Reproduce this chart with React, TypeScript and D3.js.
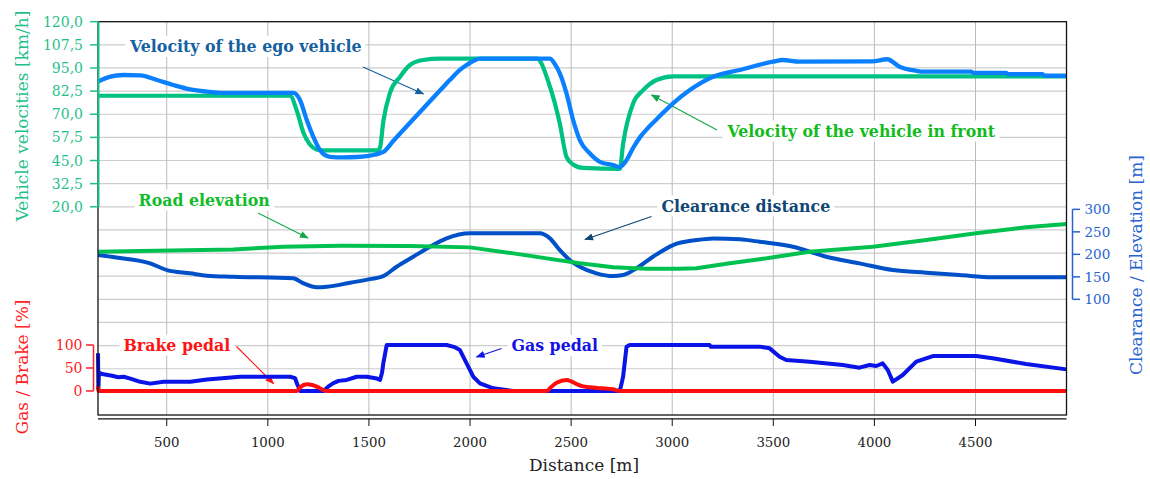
import React, { useEffect, useRef } from "react";
import * as d3 from "d3";

// ---------------- DATA ----------------
// distance [m], velocity [km/h]
const frontVelocity: [number, number][] = [
  [160, 80], [1110, 80], [1143, 72], [1176, 60], [1209, 53.5], [1240, 51], [1273, 50.5],
  [1545, 50.5], [1555, 52], [1571, 66], [1604, 81.5], [1654, 90.3], [1703, 96.6], [1768, 99.3],
  [1851, 100], [2330, 100], [2395, 85], [2444, 65], [2477, 47], [2508, 43], [2558, 41],
  [2741, 40.5], [2757, 54], [2807, 76], [2856, 83], [2922, 88.5], [3004, 90.5], [4950, 90.5],
];
const egoVelocity: [number, number][] = [
  [160, 87.6], [221, 90.3], [285, 91.2], [369, 91], [452, 88.5], [532, 85.8], [616, 83.4],
  [699, 82.2], [779, 81.5], [1126, 81.5], [1159, 77.7], [1192, 67], [1225, 57.8], [1258, 50.6],
  [1307, 47], [1373, 46.7], [1440, 46.9], [1489, 47.4], [1571, 49.7], [1620, 55.5], [1687, 63.5],
  [1851, 82.8], [1900, 88.5], [1950, 94], [1983, 96.6], [2020, 99], [2049, 100], [2395, 100],
  [2420, 97], [2444, 92.1], [2477, 81.3], [2510, 66.9], [2543, 56], [2592, 48.9], [2642, 44.3],
  [2708, 42.5], [2741, 41.5], [2774, 45.2], [2805, 51.5], [2840, 57.5], [2880, 62.6], [2922, 67.2],
  [3004, 75.9], [3087, 83.1], [3202, 90.3], [3334, 93.9], [3498, 98.4], [3547, 99.3], [3629, 98.4],
  [3989, 98.6], [4063, 99.7], [4124, 95.7], [4206, 93.5], [4239, 93], [4478, 93], [4490, 92.4],
  [4651, 92.4], [4660, 91.7], [4832, 91.7], [4840, 90.8], [4950, 90.8],
];
// distance [m], clearance / elevation [m]
const clearance: [number, number][] = [
  [161, 198.4], [250, 193], [418, 180], [501, 165], [616, 157.8], [699, 152.6], [829, 150.2],
  [1125, 146.7], [1176, 135.6], [1242, 126.7], [1292, 128], [1407, 136.9], [1505, 145],
  [1571, 151.7], [1637, 172.4], [1719, 194.7], [1802, 217], [1884, 235.5], [2000, 246.7],
  [2345, 246.7], [2395, 235.5], [2444, 209.6], [2494, 187], [2543, 172.4], [2625, 157.8],
  [2708, 151.7], [2757, 154], [2823, 168.9], [2905, 194.7], [3004, 220.7], [3120, 231.8],
  [3202, 235.5], [3334, 233.3], [3432, 228], [3597, 217], [3762, 194.7], [3926, 180], [4091, 165],
  [4256, 159.1], [4420, 154], [4585, 148.9], [4950, 148.9],
];
const elevation: [number, number][] = [
  [161, 205.8], [369, 207.3], [829, 211], [1077, 216.9], [1357, 219.1], [1700, 218.5],
  [2000, 215.5], [2214, 202.2], [2379, 191.1], [2543, 180], [2708, 171.1], [2873, 168],
  [3037, 168], [3120, 168.9], [3285, 180], [3432, 189], [3679, 205.8], [3992, 217], [4256, 231.8],
  [4503, 246.7], [4750, 260], [4950, 267.3],
];
// distance [m], pedal [%]
const gasPedal: [number, number][] = [
  [160, 82], [162, 5], [165, 40], [180, 37], [230, 33], [260, 30], [287, 31], [320, 27], [369, 20],
  [418, 16], [484, 20], [616, 20], [699, 25], [863, 31], [1110, 31], [1135, 28], [1143, 17],
  [1160, 0], [1275, 0], [1300, 10], [1324, 17], [1350, 22], [1390, 24], [1440, 31], [1489, 31],
  [1540, 27], [1555, 24], [1565, 40], [1571, 60], [1588, 100], [1884, 100], [1920, 96], [1950, 89],
  [1983, 60], [2016, 31], [2049, 16.7], [2115, 5.8], [2214, 0], [2741, 0], [2757, 31], [2774, 96],
  [2790, 100], [3185, 100], [3190, 96.4], [3432, 96.4], [3482, 92.7], [3531, 74.6], [3564, 67.4],
  [3679, 63.8], [3844, 56.5], [3926, 50.7], [3976, 56.5], [4009, 54.3], [4041, 60], [4066, 45.7],
  [4091, 20.3], [4140, 34.8], [4207, 63.8], [4289, 76], [4503, 76], [4585, 71], [4750, 58.7],
  [4950, 47],
];
const brakePedal: [number, number][] = [
  [160, 10], [163, 0], [1143, 0], [1160, 8], [1192, 14.5], [1220, 13], [1242, 9.4], [1270, 3],
  [1292, 0], [2379, 0], [2400, 8], [2428, 18], [2477, 24], [2500, 21], [2527, 15], [2560, 10],
  [2593, 8], [2650, 6], [2708, 3.6], [2741, 0], [4950, 0],
];

const xTicks = [500, 1000, 1500, 2000, 2500, 3000, 3500, 4000, 4500];
const velTicks = [20, 32.5, 45, 57.5, 70, 82.5, 95, 107.5, 120];
const rightTicks = [100, 150, 200, 250, 300];
const pedalTicks = [0, 50, 100];

// ---------------- LAYOUT ----------------
const W = 1150;
const H = 479;
const L = 98;
const R = 1066.5;
const T = 21.7;
const B = 415;

const C = {
  front: "#00c184",
  ego: "#0a80ff",
  elev: "#00c150",
  clear: "#0050c8",
  gas: "#0a14e6",
  brake: "#ff0d0d",
  velAxis: "#1fbf8a",
  rightAxis: "#2563cf",
  pedalAxis: "#ff2020",
};

const SERIF = "'DejaVu Serif', serif";

export default function App() {
  const ref = useRef<SVGSVGElement | null>(null);

  useEffect(() => {
    const svg = d3.select(ref.current!);
    svg.selectAll("*").remove();

    const x = d3.scaleLinear().domain([160, 4950]).range([L, R]);
    const yV = d3.scaleLinear().domain([-92.5, 120]).range([B, T]);
    const yR = d3.scaleLinear().domain([-157, 717]).range([B, T]);
    const yP = d3.scaleLinear().domain([-52.2, 802.8]).range([B, T]);

    const defs = svg.append("defs");
    const mk = (id: string, color: string) =>
      defs
        .append("marker")
        .attr("id", id)
        .attr("viewBox", "0 0 10 10")
        .attr("refX", 9)
        .attr("refY", 5)
        .attr("markerWidth", 9)
        .attr("markerHeight", 9)
        .attr("markerUnits", "userSpaceOnUse")
        .attr("orient", "auto")
        .append("path")
        .attr("d", "M0,1 L10,5 L0,9 Z")
        .attr("fill", color);

    svg.append("rect").attr("width", W).attr("height", H).attr("fill", "#fff");

    // grid
    const g = svg.append("g");
    const hLines = d3.range(-80, 120, 12.5);
    g.selectAll(".hg")
      .data(hLines)
      .enter()
      .append("line")
      .attr("x1", L)
      .attr("x2", R)
      .attr("y1", (d) => yV(d))
      .attr("y2", (d) => yV(d))
      .attr("stroke", "#cdcdcd")
      .attr("stroke-width", 1.2);
    g.selectAll(".vg")
      .data(xTicks)
      .enter()
      .append("line")
      .attr("x1", (d) => x(d))
      .attr("x2", (d) => x(d))
      .attr("y1", T)
      .attr("y2", B)
      .attr("stroke", "#bcbcbc")
      .attr("stroke-width", 1);

    // annotations (text with white boxes)
    const ann = svg.append("g");
    const labels = [
      { t: "Velocity of the ego vehicle", x: 130, y: 52, c: "#15609f" },
      { t: "Velocity of the vehicle in front", x: 727.5, y: 136.5, c: "#12bb1c" },
      { t: "Road elevation", x: 138.5, y: 205.5, c: "#12bb2a" },
      { t: "Clearance distance", x: 661.5, y: 211.5, c: "#0f4673" },
      { t: "Brake pedal", x: 123.5, y: 350.5, c: "#ff1414" },
      { t: "Gas pedal", x: 511.5, y: 351, c: "#1212e6" },
    ];
    labels.forEach((lb) => {
      const gg = ann.append("g");
      const rect = gg.append("rect").attr("fill", "#fff");
      const tx = gg
        .append("text")
        .attr("x", lb.x)
        .attr("y", lb.y)
        .attr("fill", lb.c)
        .attr("font-family", SERIF)
        .attr("font-weight", "bold")
        .attr("font-size", 15.8)
        .text(lb.t);
      const bb = (tx.node() as SVGTextElement).getBBox();
      rect
        .attr("x", bb.x - 4)
        .attr("y", bb.y - 1)
        .attr("width", bb.width + 8)
        .attr("height", bb.height + 2);
    });

    const arrows = [
      { x1: 363, y1: 67, x2: 423.5, y2: 94, c: "#15609f" },
      { x1: 717, y1: 130, x2: 651.5, y2: 95, c: "#12a84a" },
      { x1: 258, y1: 213, x2: 308, y2: 238, c: "#12a84a" },
      { x1: 651.5, y1: 216.5, x2: 585, y2: 239.5, c: "#0f4673" },
      { x1: 236.5, y1: 346.5, x2: 273.5, y2: 383.5, c: "#ff1414" },
      { x1: 501.5, y1: 348.5, x2: 476.5, y2: 357, c: "#1212e6" },
    ];
    arrows.forEach((a, i) => {
      mk("ah" + i, a.c);
      ann
        .append("line")
        .attr("x1", a.x1)
        .attr("y1", a.y1)
        .attr("x2", a.x2)
        .attr("y2", a.y2)
        .attr("stroke", a.c)
        .attr("stroke-width", 1.1)
        .attr("marker-end", `url(#ah${i})`);
    });

    // data lines
    const lineGen = (ys: d3.ScaleLinear<number, number>, curve: d3.CurveFactory) =>
      d3
        .line<[number, number]>()
        .x((d) => x(d[0]))
        .y((d) => ys(d[1]))
        .curve(curve);

    const plot = svg.append("g").attr("fill", "none").attr("stroke-linejoin", "round");
    const draw = (data: [number, number][], ys: any, color: string, w: number, curve: d3.CurveFactory) =>
      plot
        .append("path")
        .datum(data)
        .attr("d", lineGen(ys, curve) as any)
        .attr("stroke", color)
        .attr("stroke-width", w);

    draw(clearance, yR, C.clear, 4, d3.curveMonotoneX);
    draw(elevation, yR, C.elev, 4, d3.curveLinear);
    draw(frontVelocity, yV, C.front, 4.2, d3.curveMonotoneX);
    draw(egoVelocity, yV, C.ego, 4.3, d3.curveMonotoneX);
    draw(gasPedal, yP, C.gas, 4, d3.curveLinear);
    draw(brakePedal, yP, C.brake, 4, d3.curveMonotoneX);

    // frame
    svg
      .append("rect")
      .attr("x", L)
      .attr("y", T)
      .attr("width", R - L)
      .attr("height", B - T)
      .attr("fill", "none")
      .attr("stroke", "#111")
      .attr("stroke-width", 1.3);

    // bottom x axis
    const xa = svg.append("g");
    xa.append("line")
      .attr("x1", L)
      .attr("x2", R)
      .attr("y1", 418.8)
      .attr("y2", 418.8)
      .attr("stroke", "#111")
      .attr("stroke-width", 1.3);
    xa.selectAll(".xt")
      .data(xTicks)
      .enter()
      .append("line")
      .attr("x1", (d) => x(d))
      .attr("x2", (d) => x(d))
      .attr("y1", 418.8)
      .attr("y2", 426)
      .attr("stroke", "#111")
      .attr("stroke-width", 1);
    xa.selectAll(".xl")
      .data(xTicks)
      .enter()
      .append("text")
      .attr("x", (d) => x(d))
      .attr("y", 446.5)
      .attr("text-anchor", "middle")
      .attr("font-family", SERIF)
      .attr("font-size", 13.3)
      .attr("fill", "#222")
      .text((d) => String(d));
    svg
      .append("text")
      .attr("x", 584)
      .attr("y", 471)
      .attr("text-anchor", "middle")
      .attr("font-family", SERIF)
      .attr("font-size", 17)
      .attr("fill", "#222")
      .text("Distance [m]");

    // velocity axis (left, top)
    const va = svg.append("g");
    va.append("line")
      .attr("x1", L + 0.5)
      .attr("x2", L + 0.5)
      .attr("y1", yV(20))
      .attr("y2", yV(120))
      .attr("stroke", C.velAxis)
      .attr("stroke-width", 2);
    va.selectAll(".vt")
      .data(velTicks)
      .enter()
      .append("line")
      .attr("x1", 90)
      .attr("x2", L + 0.5)
      .attr("y1", (d) => yV(d))
      .attr("y2", (d) => yV(d))
      .attr("stroke", C.velAxis)
      .attr("stroke-width", 1.5);
    va.selectAll(".vl")
      .data(velTicks)
      .enter()
      .append("text")
      .attr("x", 83)
      .attr("y", (d) => yV(d))
      .attr("dy", "0.36em")
      .attr("text-anchor", "end")
      .attr("font-family", SERIF)
      .attr("font-size", 14)
      .attr("fill", C.velAxis)
      .text((d) => d.toFixed(1).replace(".", ","));
    svg
      .append("text")
      .attr("transform", `translate(28,${116}) rotate(-90)`)
      .attr("text-anchor", "middle")
      .attr("font-family", SERIF)
      .attr("font-size", 17)
      .attr("fill", C.velAxis)
      .text("Vehicle velocities [km/h]");

    // pedal axis (left, bottom)
    const pa = svg.append("g");
    pa.append("line")
      .attr("x1", 93.5)
      .attr("x2", 93.5)
      .attr("y1", yP(0))
      .attr("y2", yP(100))
      .attr("stroke", C.pedalAxis)
      .attr("stroke-width", 1.5);
    pa.selectAll(".pt")
      .data(pedalTicks)
      .enter()
      .append("line")
      .attr("x1", 86)
      .attr("x2", 93.5)
      .attr("y1", (d) => yP(d))
      .attr("y2", (d) => yP(d))
      .attr("stroke", C.pedalAxis)
      .attr("stroke-width", 1.5);
    pa.selectAll(".pl")
      .data(pedalTicks)
      .enter()
      .append("text")
      .attr("x", 82.5)
      .attr("y", (d) => yP(d))
      .attr("dy", "0.36em")
      .attr("text-anchor", "end")
      .attr("font-family", SERIF)
      .attr("font-size", 14)
      .attr("fill", C.pedalAxis)
      .text((d) => String(d));
    svg
      .append("text")
      .attr("transform", `translate(28,${367}) rotate(-90)`)
      .attr("text-anchor", "middle")
      .attr("font-family", SERIF)
      .attr("font-size", 17)
      .attr("fill", C.pedalAxis)
      .text("Gas / Brake [%]");

    // right axis
    const ra = svg.append("g");
    ra.append("line")
      .attr("x1", 1072.5)
      .attr("x2", 1072.5)
      .attr("y1", yR(100))
      .attr("y2", yR(300))
      .attr("stroke", C.rightAxis)
      .attr("stroke-width", 1.5);
    ra.selectAll(".rt")
      .data(rightTicks)
      .enter()
      .append("line")
      .attr("x1", 1072.5)
      .attr("x2", 1080)
      .attr("y1", (d) => yR(d))
      .attr("y2", (d) => yR(d))
      .attr("stroke", C.rightAxis)
      .attr("stroke-width", 1.5);
    ra.selectAll(".rl")
      .data(rightTicks)
      .enter()
      .append("text")
      .attr("x", 1084.5)
      .attr("y", (d) => yR(d))
      .attr("dy", "0.36em")
      .attr("font-family", SERIF)
      .attr("font-size", 13.5)
      .attr("fill", C.rightAxis)
      .text((d) => String(d));
    svg
      .append("text")
      .attr("transform", `translate(1142,${265}) rotate(-90)`)
      .attr("text-anchor", "middle")
      .attr("font-family", SERIF)
      .attr("font-size", 17)
      .attr("fill", C.rightAxis)
      .text("Clearance / Elevation [m]");
  }, []);

  return (
    <svg
      ref={ref}
      width={W}
      height={H}
      style={{ position: "absolute", left: 0, top: 0, display: "block" }}
    />
  );
}
